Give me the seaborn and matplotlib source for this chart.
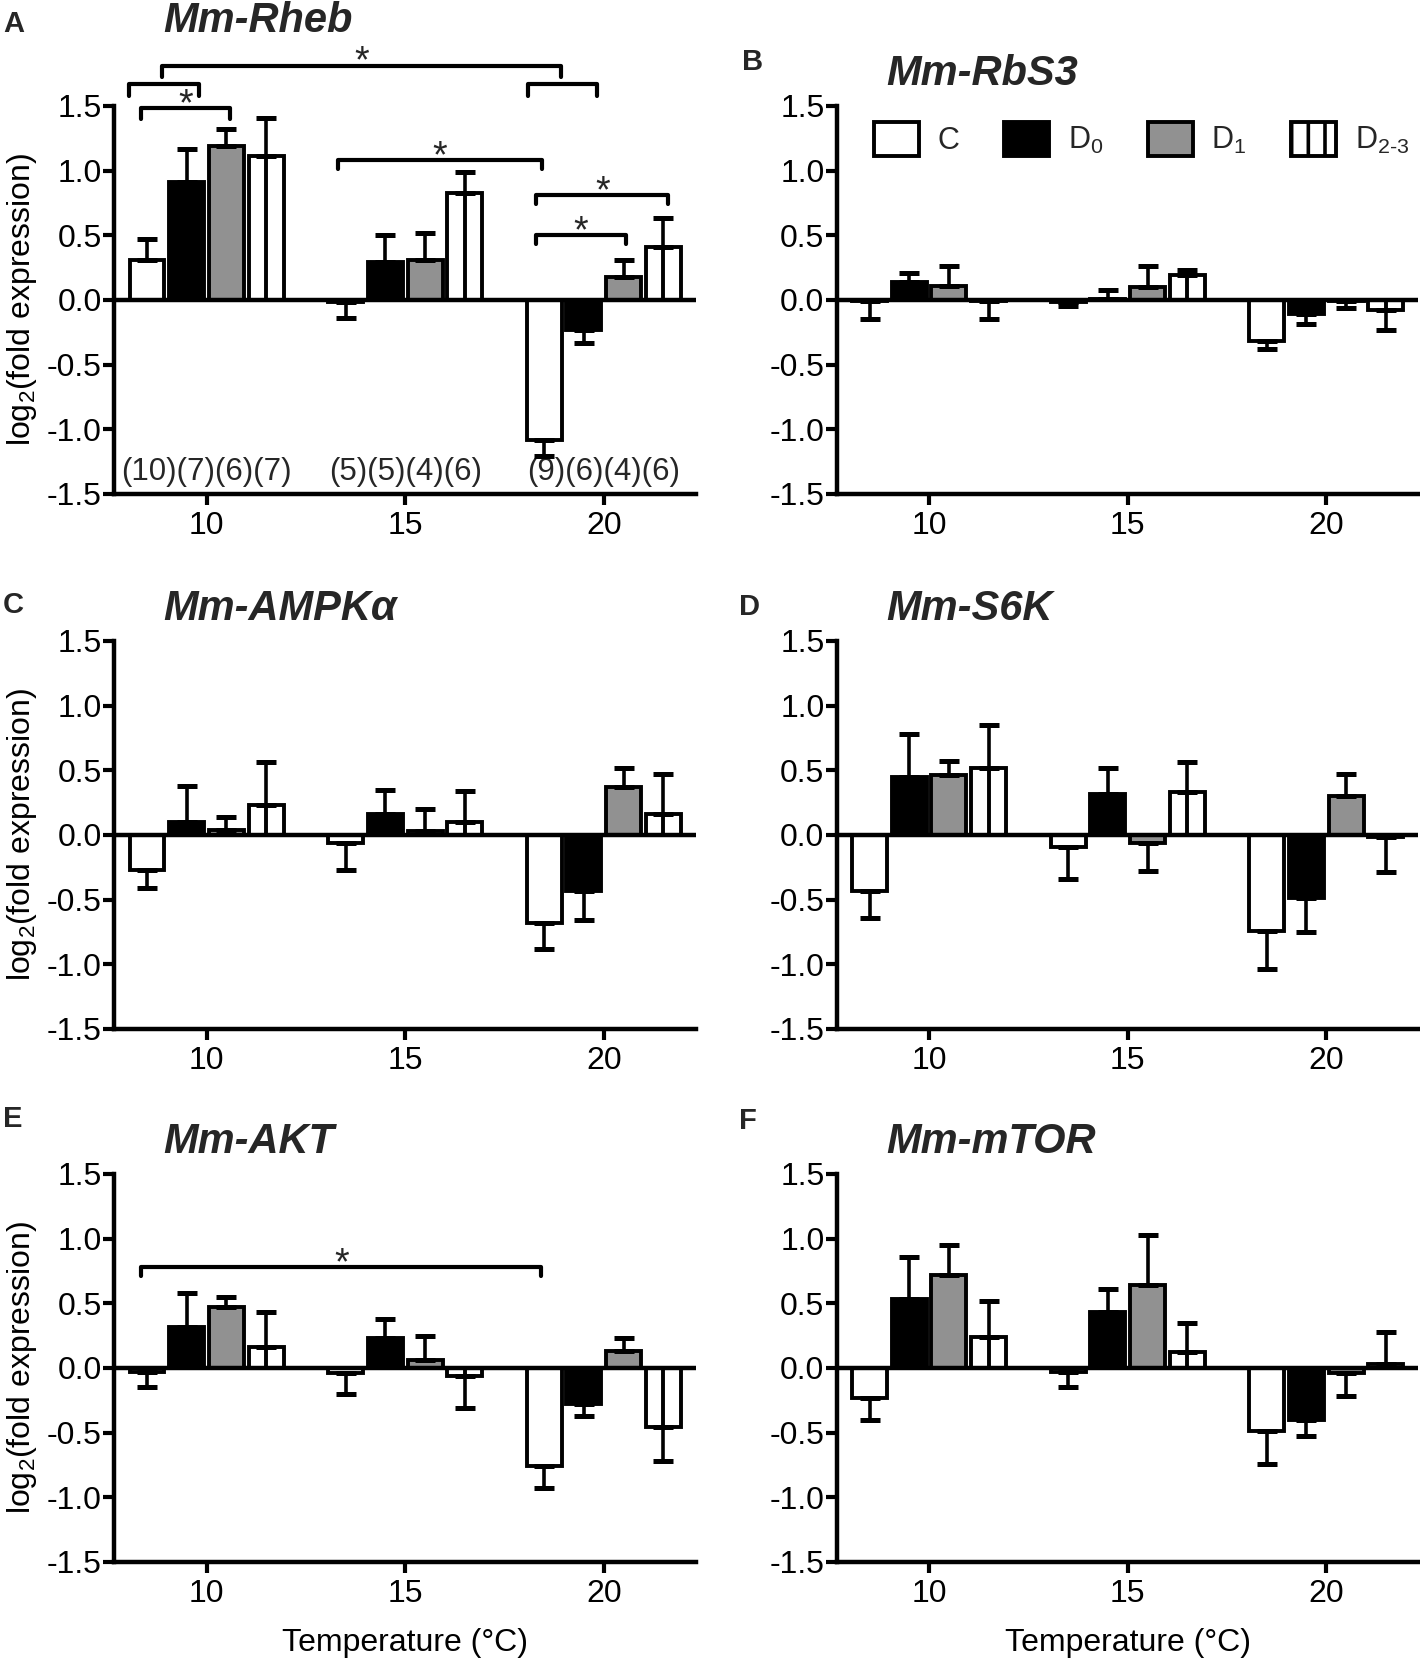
import numpy as np
import pandas as pd
import matplotlib
matplotlib.use("Agg")
import matplotlib.pyplot as plt
from matplotlib.patches import Patch
import seaborn as sns

# temperatures on the x axis and the four sampling groups
temps = [10, 15, 20]
groups = ["C", "D0", "D1", "D2-3"]
group_labels = ["C", "D$_0$", "D$_1$", "D$_{2\\text{-}3}$"]
group_colors = {"C": "white", "D0": "black", "D1": "#919191", "D2-3": "white"}

genes = ["Mm-Rheb", "Mm-RbS3", "Mm-AMPKα", "Mm-S6K", "Mm-AKT", "Mm-mTOR"]
letters = ["A", "B", "C", "D", "E", "F"]

# log2(fold expression), rows = 10, 15, 20 degC ; cols = C, D0, D1, D2-3
rheb_mean = [[0.31, 0.91, 1.19, 1.11], [-0.02, 0.29, 0.31, 0.83], [-1.08, -0.23, 0.18, 0.41]]
rheb_sem = [[0.16, 0.26, 0.13, 0.30], [0.12, 0.21, 0.21, 0.16], [0.13, 0.10, 0.13, 0.22]]
rbs3_mean = [[-0.01, 0.14, 0.11, -0.01], [-0.02, 0.01, 0.10, 0.19], [-0.32, -0.11, -0.01, -0.08]]
rbs3_sem = [[0.14, 0.07, 0.15, 0.14], [0.03, 0.07, 0.16, 0.04], [0.06, 0.08, 0.05, 0.15]]
ampk_mean = [[-0.27, 0.10, 0.04, 0.23], [-0.06, 0.16, 0.03, 0.10], [-0.68, -0.43, 0.37, 0.16]]
ampk_sem = [[0.14, 0.28, 0.10, 0.33], [0.21, 0.19, 0.17, 0.24], [0.20, 0.23, 0.15, 0.31]]
s6k_mean = [[-0.43, 0.45, 0.46, 0.52], [-0.09, 0.32, -0.06, 0.33], [-0.74, -0.49, 0.30, -0.02]]
s6k_sem = [[0.21, 0.33, 0.11, 0.33], [0.25, 0.20, 0.22, 0.23], [0.30, 0.26, 0.17, 0.27]]
akt_mean = [[-0.03, 0.32, 0.47, 0.16], [-0.04, 0.23, 0.06, -0.06], [-0.76, -0.28, 0.13, -0.46]]
akt_sem = [[0.12, 0.26, 0.08, 0.27], [0.16, 0.15, 0.19, 0.25], [0.17, 0.09, 0.10, 0.26]]
mtor_mean = [[-0.23, 0.53, 0.72, 0.24], [-0.03, 0.43, 0.64, 0.12], [-0.49, -0.40, -0.04, 0.03]]
mtor_sem = [[0.17, 0.33, 0.23, 0.28], [0.12, 0.18, 0.39, 0.23], [0.25, 0.13, 0.18, 0.25]]

means = [rheb_mean, rbs3_mean, ampk_mean, s6k_mean, akt_mean, mtor_mean]
sems = [rheb_sem, rbs3_sem, ampk_sem, s6k_sem, akt_sem, mtor_sem]

# sample sizes shown in panel A
rheb_n = ["(10)(7)(6)(7)", "(5)(5)(4)(6)", "(9)(6)(4)(6)"]

# significance brackets: x1, x2, y, leg drop, star
rheb_brackets = [
    (8.88, 18.92, 1.81, 0.09, True),
    (8.05, 9.81, 1.67, 0.09, False),
    (18.08, 19.83, 1.67, 0.09, False),
    (8.35, 10.58, 1.48, 0.08, True),
    (13.30, 18.45, 1.08, 0.07, True),
    (18.30, 21.62, 0.81, 0.07, True),
    (18.30, 20.55, 0.50, 0.07, True),
]
akt_brackets = [(8.35, 18.43, 0.78, 0.07, True)]
brackets = {0: rheb_brackets, 4: akt_brackets}

sns.set_theme(style="ticks")
plt.rcParams["font.family"] = ["Liberation Sans", "DejaVu Sans"]
plt.rcParams.update({
    "mathtext.fontset": "custom",
    "mathtext.rm": "Liberation Sans",
    "mathtext.it": "Liberation Sans:italic",
    "mathtext.bf": "Liberation Sans:bold",
    "mathtext.default": "regular",
    "hatch.linewidth": 2.6,
    "axes.linewidth": 3,
})

FS = 23
LW = 2.8
fig = plt.figure(figsize=(14.2, 16.62), dpi=100)

col_left = [0.0806, 0.5894]
row_bottom = [0.7028, 0.3809, 0.0602]
W, H = 0.4095, 0.2335

for i in range(6):
    r, c = divmod(i, 2)
    ax = fig.add_axes([col_left[c], row_bottom[r], W, H])
    mean = np.array(means[i])
    sem = np.array(sems[i])

    df = pd.DataFrame({
        "temp": np.repeat(temps, len(groups)),
        "group": groups * len(temps),
        "value": mean.ravel(),
    })
    sns.barplot(data=df, x="temp", y="value", hue="group", hue_order=groups,
                palette=group_colors, native_scale=True, errorbar=None,
                width=0.8, gap=0.12, saturation=1, edgecolor="black",
                linewidth=LW, legend=False, ax=ax, zorder=2)

    bars = sorted([p for cont in ax.containers for p in cont], key=lambda p: p.get_x())
    xs = np.array([p.get_x() + p.get_width() / 2 for p in bars])
    vals = mean.ravel()
    errs = sem.ravel()
    lower = np.where(vals < 0, errs, 0)
    upper = np.where(vals >= 0, errs, 0)
    ax.errorbar(xs, vals, yerr=[lower, upper], fmt="none", ecolor="black",
                elinewidth=2.6, capsize=7.5, capthick=3.6, zorder=4)

    # single vertical stripe inside the D2-3 bars
    for k in range(3, len(vals), 4):
        ax.plot([xs[k], xs[k]], [0, vals[k]], color="black", lw=LW,
                solid_capstyle="butt", zorder=3)

    ax.axhline(0, color="black", lw=3.2, zorder=3)

    ax.set_xlim(7.68, 22.32)
    ax.set_ylim(-1.5, 1.5)
    ax.set_xticks(temps, [str(t) for t in temps])
    yt = [1.5, 1.0, 0.5, 0.0, -0.5, -1.0, -1.5]
    ax.set_yticks(yt, [f"{v:.1f}" for v in yt])
    ax.tick_params(axis="both", labelsize=FS, width=3, length=8, color="black",
                   labelcolor="black", direction="out")
    ax.tick_params(axis="y", pad=1)
    ax.tick_params(axis="x", pad=4)
    sns.despine(ax=ax)
    for s in ["left", "bottom"]:
        ax.spines[s].set_color("black")
        ax.spines[s].set_linewidth(3.2)

    ax.set_xlabel("")
    ax.set_ylabel("")
    if c == 0:
        ax.set_ylabel("log$_2$(fold expression)", fontsize=FS, color="black")
        ax.yaxis.set_label_coords(-0.13, 0.5)
    if r == 2:
        ax.set_xlabel("Temperature (°C)", fontsize=FS, color="black")
        ax.xaxis.set_label_coords(0.5, -0.17)

    title_y = 1.19 if i == 0 else 1.054
    ax.text(0.084, title_y, genes[i], transform=ax.transAxes, fontsize=30,
            fontweight="bold", fontstyle="italic", ha="left", va="baseline")

    if i == 0:
        for t, lab in zip(temps, rheb_n):
            ax.text(t, -1.33, lab, ha="center", va="center", fontsize=22.5)

    for x1, x2, y, drop, star in brackets.get(i, []):
        ax.plot([x1, x1, x2, x2], [y - drop, y, y, y - drop], color="black",
                lw=3, clip_on=False, zorder=5)
        if star:
            ax.annotate("*", ((x1 + x2) / 2, y), xytext=(0, -5),
                        textcoords="offset points", ha="center", va="baseline",
                        fontsize=27, annotation_clip=False)

    if i == 1:
        handles = [Patch(facecolor=group_colors[g], edgecolor="black", linewidth=LW,
                         hatch="|" if g == "D2-3" else None) for g in groups]
        ax.legend(handles, group_labels, loc="center left", bbox_to_anchor=(0.0636, 0.915),
                  ncol=4, frameon=False, fontsize=22, handlelength=1.47,
                  handleheight=1.35, handletextpad=0.62, columnspacing=1.45,
                  borderpad=0, borderaxespad=0)

letter_pos = [(0.002, 0.994), (0.5225, 0.971), (0.002, 0.6446),
              (0.5204, 0.6434), (0.002, 0.335), (0.5204, 0.334)]
for lab, (x, y) in zip(letters, letter_pos):
    fig.text(x, y, lab, fontsize=21, fontweight="bold", va="top", ha="left")

fig.savefig("out.png", dpi=100)
